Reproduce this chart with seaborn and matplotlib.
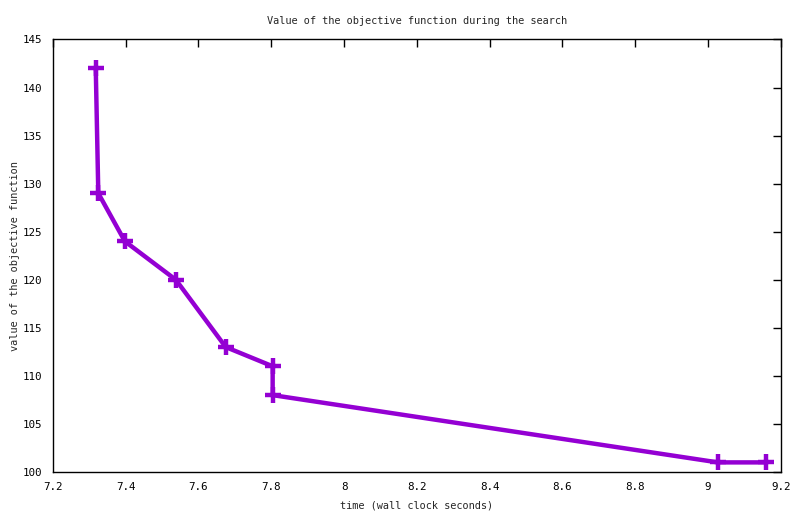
import matplotlib
matplotlib.use("Agg")
import matplotlib.pyplot as plt
import seaborn as sns
import pandas as pd

time_s = [7.318, 7.325, 7.398, 7.538, 7.675, 7.804, 7.804, 9.027, 9.159]
objective = [142, 129, 124, 120, 113, 111, 108, 101, 101]
x_ticks = [7.2, 7.4, 7.6, 7.8, 8.0, 8.2, 8.4, 8.6, 8.8, 9.0, 9.2]
x_tick_labels = ["7.2", "7.4", "7.6", "7.8", "8", "8.2", "8.4", "8.6", "8.8", "9", "9.2"]
y_ticks = [100, 105, 110, 115, 120, 125, 130, 135, 140, 145]

sns.set_style("white")
plt.rcParams['font.family'] = ['DejaVu Sans Mono', 'Liberation Mono']

df = pd.DataFrame({"t": time_s, "v": objective})

fig = plt.figure(figsize=(8, 5.14), dpi=100)
ax = fig.add_axes([0.066, 0.0817, 0.910, 0.8415])
sns.lineplot(data=df, x="t", y="v", sort=False, ax=ax, color="#9400D3",
             linewidth=3.2, marker="+", markersize=11, markeredgewidth=3.2,
             markeredgecolor="#9400D3", estimator=None)

ax.set_xlim(7.2, 9.2)
ax.set_ylim(100, 145)
ax.set_xticks(x_ticks)
ax.set_xticklabels(x_tick_labels)
ax.set_yticks(y_ticks)
ax.tick_params(direction="in", length=6, width=1, top=True, right=True,
               labelsize=7.8, colors="black")
ax.tick_params(axis="y", pad=8)
ax.tick_params(axis="x", pad=7)
for s in ax.spines.values():
    s.set_visible(True)
    s.set_color("black")
    s.set_linewidth(1)
ax.set_xlabel("time (wall clock seconds)", fontsize=7.4)
ax.xaxis.set_label_coords(0.5, -0.065)
ax.set_ylabel("value of the objective function", fontsize=7.4)
ax.yaxis.set_label_coords(-0.045, 0.5)
ax.set_title("Value of the objective function during the search", fontsize=7.4, pad=11)
ax.grid(False)

fig.savefig("out.png", dpi=100)
